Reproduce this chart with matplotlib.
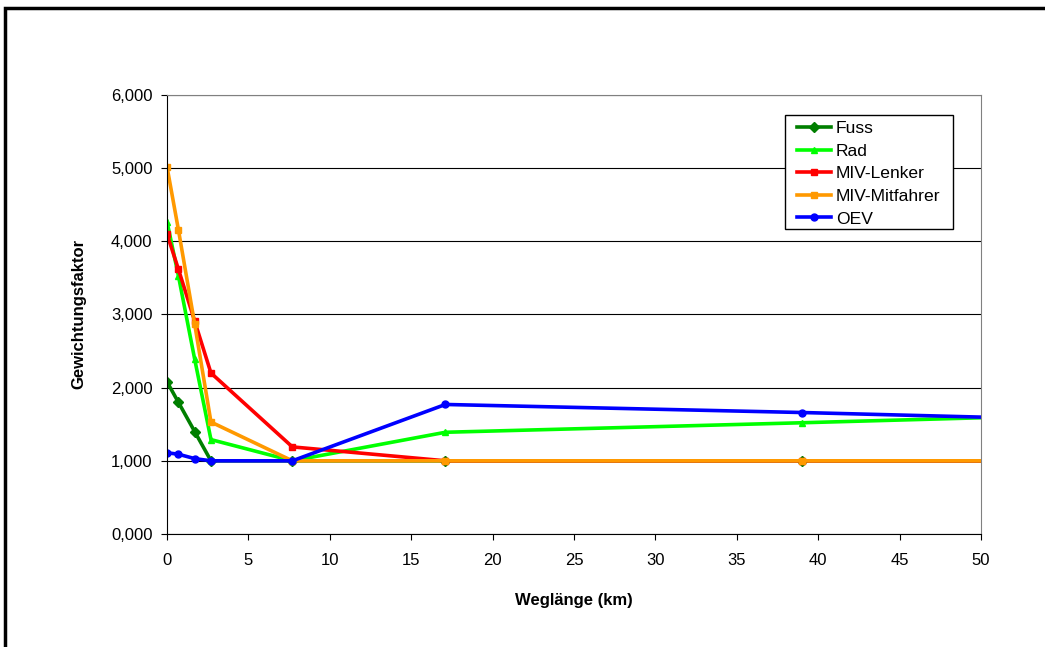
import matplotlib
matplotlib.use('Agg')
from matplotlib import pyplot as plt
from matplotlib.ticker import FuncFormatter, MultipleLocator
from matplotlib.patches import Rectangle

plt.rcParams['font.family'] = ['Liberation Sans', 'DejaVu Sans']

# distance classes (km); the last one lies beyond the visible axis
distance = [0, 0.7, 1.7, 2.7, 7.7, 17.1, 39.0, 60.0]

fuss = [2.08, 1.80, 1.40, 1.00, 1.00, 1.00, 1.00, 1.00]
rad = [4.27, 3.53, 2.39, 1.29, 1.00, 1.39, 1.52, 1.65]
miv_lenker = [4.10, 3.62, 2.91, 2.20, 1.19, 1.00, 1.00, 1.00]
miv_mitfahrer = [5.02, 4.16, 2.87, 1.53, 1.00, 1.00, 1.00, 1.00]
oev = [1.11, 1.09, 1.03, 1.00, 1.00, 1.77, 1.66, 1.54]

series = [
    ('Fuss', fuss, '#007f00', 'D'),
    ('Rad', rad, '#00ff00', '^'),
    ('MIV-Lenker', miv_lenker, '#ff0000', 's'),
    ('MIV-Mitfahrer', miv_mitfahrer, '#ff9900', 's'),
    ('OEV', oev, '#0000ff', 'o'),
]


def main():
    fig = plt.figure(figsize=(10.45, 6.47), dpi=100)
    ax = fig.add_axes([0.1598, 0.1747, 0.7790, 0.6785])

    for name, values, color, marker in series:
        ax.plot(distance, values, '-', color=color, marker=marker, markersize=5,
                linewidth=2.6, label=name)

    ax.set_xlim(0, 50)
    ax.set_ylim(0, 6)
    ax.xaxis.set_major_locator(MultipleLocator(5))
    ax.yaxis.set_major_locator(MultipleLocator(1))
    ax.yaxis.set_major_formatter(FuncFormatter(lambda v, p: f'{v:.3f}'.replace('.', ',')))
    ax.tick_params(labelsize=12, length=4, direction='out')
    ax.tick_params(axis='x', pad=10)
    ax.tick_params(axis='y', pad=6.5)
    ax.grid(axis='y', color='black', linewidth=0.8)
    ax.set_axisbelow(True)

    for side in ['top', 'right']:
        ax.spines[side].set_color('#808080')
    for side in ['left', 'bottom']:
        ax.spines[side].set_color('black')

    fig.text(574 / 1045, 1 - 600 / 647, 'Weglänge (km)', fontsize=12,
             fontweight='bold', ha='center', va='center')
    fig.text(79 / 1045, 1 - 314 / 647, 'Gewichtungsfaktor', fontsize=12,
             fontweight='bold', ha='center', va='center', rotation=90)

    # legend box drawn by hand so its padding matches the original
    ax.add_patch(Rectangle((0.7592, 0.6948), 0.2064, 0.2596, transform=ax.transAxes,
                           facecolor='white', edgecolor='black', linewidth=1.0,
                           zorder=5))
    leg = ax.legend(loc='upper left', bbox_to_anchor=(0.7745, 0.941), fontsize=12.6,
                    frameon=False, borderaxespad=0, borderpad=0,
                    handlelength=1.9, handletextpad=0.3, labelspacing=0.42)
    leg.set_zorder(6)

    # outer chart frame (cut off at right and bottom)
    fig.patches.append(Rectangle((5 / 1045, -0.05), 1.1, 1 - 8 / 647 + 0.05,
                                 transform=fig.transFigure, fill=False,
                                 edgecolor='black', linewidth=2.5))

    fig.savefig('out.png', dpi=100)


if __name__ == '__main__':
    main()
